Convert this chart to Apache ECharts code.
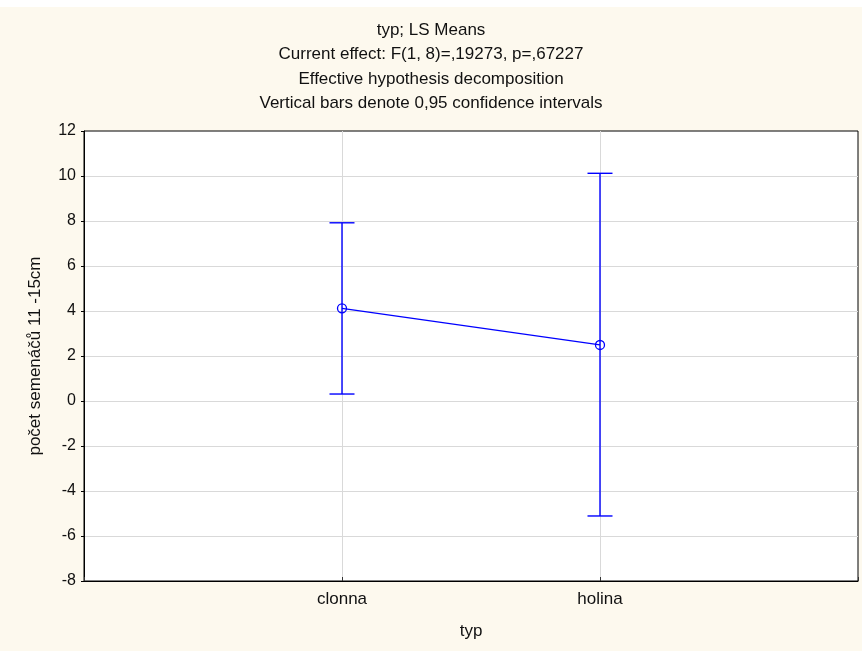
<!DOCTYPE html>
<html>
<head>
<meta charset="utf-8">
<script src="https://cdn.jsdelivr.net/npm/echarts@6/dist/echarts.min.js"></script>
<style>
html,body{margin:0;padding:0;background:#ffffff;}
#chart{width:862px;height:651px;}
</style>
</head>
<body>
<div id="chart"></div>
<script>
const categories = ['', 'clonna', 'holina', ''];
const means = [null, 4.12, 2.49, null];
const ciLow = [null, 0.31, -5.11, null];
const ciHigh = [null, 7.92, 10.12, null];
const titleLines = [
  'typ; LS Means',
  'Current effect: F(1, 8)=,19273, p=,67227',
  'Effective hypothesis decomposition',
  'Vertical bars denote 0,95 confidence intervals'
];
const yName = 'počet semenáčů 11 -15cm';
const xName = 'typ';

const errData = [];
for (let i = 0; i < categories.length; i++) {
  if (ciLow[i] !== null) errData.push([i, ciLow[i], ciHigh[i]]);
}
const FONT = '"Liberation Sans", Arial, sans-serif';
const chart = echarts.init(document.getElementById('chart'));
chart.setOption({
  animation: false,
  backgroundColor: '#fdf9ee',
  graphic: [{
    type: 'rect', left: 0, top: 0, shape: {width: 862, height: 7},
    style: {fill: '#ffffff'}, z: -10, silent: true
  }],
  title: {
    text: titleLines.join('\n'),
    left: 'center',
    top: 13,
    textStyle: {fontFamily: FONT, fontSize: 17, fontWeight: 'normal', color: '#111', lineHeight: 24.5}
  },
  grid: {
    left: 84, right: 4, top: 131, bottom: 70,
    show: true, backgroundColor: '#ffffff', borderColor: '#000', borderWidth: 1
  },
  xAxis: {
    type: 'category',
    data: categories,
    boundaryGap: false,
    name: xName,
    nameLocation: 'middle',
    nameGap: 42,
    nameTextStyle: {fontFamily: FONT, fontSize: 17, color: '#111'},
    axisLine: {onZero: false, lineStyle: {color: '#000', width: 1}},
    axisTick: {inside: true, length: 4, lineStyle: {color: '#333'}},
    axisLabel: {fontFamily: FONT, fontSize: 17, color: '#111', margin: 10, interval: 0},
    splitLine: {show: true, showMinLine: false, showMaxLine: false, lineStyle: {color: '#d9d9d9', width: 1}}
  },
  yAxis: {
    type: 'value',
    min: -8, max: 12, interval: 2,
    name: yName,
    nameLocation: 'middle',
    nameRotate: 90,
    nameGap: 40,
    nameTextStyle: {fontFamily: FONT, fontSize: 17, color: '#111'},
    axisLine: {show: true, onZero: false, lineStyle: {color: '#000', width: 1}},
    axisTick: {show: true, length: 3, lineStyle: {color: '#000'}},
    axisLabel: {fontFamily: FONT, fontSize: 16, color: '#111', margin: 8},
    splitLine: {show: true, showMinLine: false, showMaxLine: false, lineStyle: {color: '#d9d9d9', width: 1}}
  },
  series: [
    {
      type: 'custom',
      data: errData,
      z: 3,
      renderItem: function (params, api) {
        const x = api.value(0);
        const lo = api.coord([x, api.value(1)]);
        const hi = api.coord([x, api.value(2)]);
        const hw = 12.5;
        const st = {stroke: '#0000ff', lineWidth: 1.4};
        return {
          type: 'group',
          children: [
            {type: 'line', shape: {x1: lo[0], y1: lo[1], x2: hi[0], y2: hi[1]}, style: st},
            {type: 'line', shape: {x1: lo[0] - hw, y1: lo[1], x2: lo[0] + hw, y2: lo[1]}, style: st},
            {type: 'line', shape: {x1: hi[0] - hw, y1: hi[1], x2: hi[0] + hw, y2: hi[1]}, style: st}
          ]
        };
      }
    },
    {
      type: 'line',
      data: means,
      z: 4,
      symbol: 'circle',
      symbolSize: 9,
      showAllSymbol: true,
      lineStyle: {color: '#0000ff', width: 1.3},
      itemStyle: {color: 'rgba(0,0,0,0)', borderColor: '#0000ff', borderWidth: 1.3}
    }
  ]
});
</script>
</body>
</html>
